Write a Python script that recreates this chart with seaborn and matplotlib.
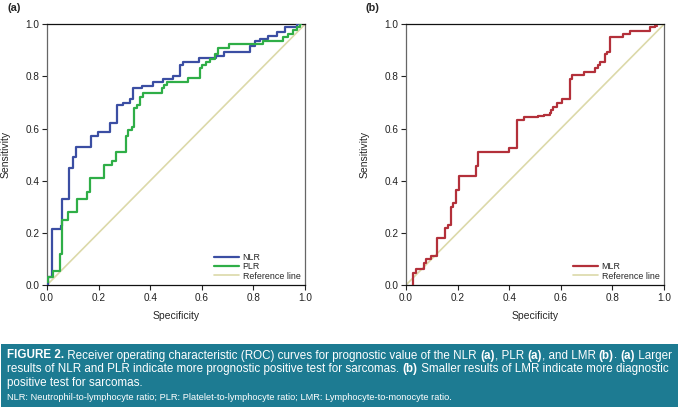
import matplotlib
matplotlib.use("Agg")
import matplotlib.pyplot as plt
import seaborn as sns
import pandas as pd
from matplotlib.patches import Rectangle

# ROC curve corner points (specificity axis, sensitivity)
nlr_x = [0.0, 0.003, 0.02, 0.055, 0.06, 0.084, 0.10, 0.114, 0.169, 0.199, 0.244, 0.272, 0.296,
         0.32, 0.335, 0.367, 0.41, 0.45, 0.49, 0.515, 0.526, 0.589, 0.655, 0.685, 0.787, 0.806,
         0.826, 0.858, 0.89, 0.922, 0.968, 0.98]
nlr_y = [0.0, 0.03, 0.215, 0.225, 0.33, 0.45, 0.49, 0.53, 0.57, 0.585, 0.62, 0.69, 0.70,
         0.715, 0.755, 0.765, 0.78, 0.79, 0.80, 0.845, 0.855, 0.87, 0.88, 0.893, 0.915, 0.935,
         0.945, 0.957, 0.97, 0.988, 1.0, 1.0]

plr_x = [0.0, 0.005, 0.022, 0.05, 0.06, 0.083, 0.117, 0.156, 0.167, 0.222, 0.252, 0.266, 0.305,
         0.315, 0.328, 0.338, 0.35, 0.36, 0.371, 0.444, 0.455, 0.464, 0.548, 0.593, 0.602, 0.616,
         0.632, 0.651, 0.664, 0.707, 0.838, 0.916, 0.935, 0.955, 0.968, 0.98, 0.985]
plr_y = [0.01, 0.03, 0.055, 0.12, 0.25, 0.28, 0.33, 0.358, 0.41, 0.46, 0.475, 0.51, 0.57,
         0.595, 0.607, 0.678, 0.69, 0.722, 0.738, 0.754, 0.767, 0.78, 0.793, 0.831, 0.844, 0.855,
         0.867, 0.885, 0.908, 0.923, 0.937, 0.952, 0.962, 0.98, 0.99, 1.0, 1.0]

mlr_x = [0.028, 0.028, 0.039, 0.07, 0.076, 0.098, 0.119, 0.151, 0.164, 0.174, 0.183, 0.195, 0.205,
         0.27, 0.28, 0.40, 0.43, 0.457, 0.512, 0.535, 0.558, 0.562, 0.57, 0.584, 0.606, 0.634,
         0.645, 0.69, 0.733, 0.743, 0.752, 0.771, 0.78, 0.791, 0.842, 0.868, 0.946, 0.965, 0.972]
mlr_y = [0.0, 0.045, 0.06, 0.086, 0.099, 0.111, 0.179, 0.22, 0.23, 0.298, 0.313, 0.364, 0.418,
         0.458, 0.511, 0.527, 0.633, 0.646, 0.649, 0.653, 0.659, 0.671, 0.684, 0.697, 0.712, 0.789,
         0.804, 0.818, 0.831, 0.845, 0.857, 0.886, 0.895, 0.95, 0.963, 0.975, 0.99, 0.995, 0.995]

ref_x = [0.0, 1.0]
ref_y = [0.0, 1.0]

NLR_COLOR = "#3b4ea3"
PLR_COLOR = "#2fae47"
MLR_COLOR = "#b3303a"
REF_COLOR = "#dcd9a9"
BOX_COLOR = "#1d7b92"

sns.set_style("white")
plt.rcParams["font.family"] = ["Liberation Sans", "DejaVu Sans"]

fig = plt.figure(figsize=(6.78, 4.07), dpi=100)
W, H = 678, 407


def axes_rect(left, right, top, bottom):
    return [left / W, 1 - bottom / H, (right - left) / W, (bottom - top) / H]


ax_a = fig.add_axes(axes_rect(47, 305, 24.3, 285))
ax_b = fig.add_axes(axes_rect(406, 664, 24.3, 285))


def draw_curve(ax, xs, ys, color, label, lw=1.6, style="steps-post", z=3):
    df = pd.DataFrame({"Specificity": xs, "Sensitivity": ys})
    sns.lineplot(data=df, x="Specificity", y="Sensitivity", ax=ax, color=color, lw=lw,
                 sort=False, estimator=None, drawstyle=style, label=label, zorder=z)


draw_curve(ax_a, nlr_x, nlr_y, NLR_COLOR, "NLR")
draw_curve(ax_a, plr_x, plr_y, PLR_COLOR, "PLR")
draw_curve(ax_a, ref_x, ref_y, REF_COLOR, "Reference line", lw=1.2, style="default", z=2)

draw_curve(ax_b, mlr_x, mlr_y, MLR_COLOR, "MLR")
draw_curve(ax_b, ref_x, ref_y, REF_COLOR, "Reference line", lw=1.2, style="default", z=2)

ticks = [0.0, 0.2, 0.4, 0.6, 0.8, 1.0]
for ax in (ax_a, ax_b):
    ax.set_xlim(0, 1)
    ax.set_ylim(0, 1)
    ax.set_xticks(ticks)
    ax.set_yticks(ticks)
    ax.set_xticklabels([f"{t:.1f}" for t in ticks])
    ax.set_yticklabels([f"{t:.1f}" for t in ticks])
    ax.tick_params(axis="both", direction="out", length=3.5, width=0.8, labelsize=7.2,
                   pad=2, left=True, bottom=True, colors="#222222")
    ax.set_xlabel("Specificity", fontsize=7.5, labelpad=6)
    ax.set_ylabel("Sensitivity", fontsize=7.5, labelpad=11)
    for side in ("top", "bottom"):
        ax.spines[side].set_color("#111111")
        ax.spines[side].set_linewidth(0.9)
    for side in ("left", "right"):
        ax.spines[side].set_color("#666666")
        ax.spines[side].set_linewidth(0.9)
    ax.legend(loc="lower right", frameon=False, fontsize=6.4, handlelength=2.8,
              handletextpad=0.4, labelspacing=0.02, borderaxespad=0.1)

fig.text(8 / W, 1 - 8 / H, "(a)", fontsize=7.8, fontweight="bold", va="center", ha="left")
fig.text(366 / W, 1 - 8 / H, "(b)", fontsize=7.8, fontweight="bold", va="center", ha="left")

# caption box
fig.patches.append(Rectangle((1 / W, 0), 677 / W, (H - 344.3) / H, transform=fig.transFigure,
                             facecolor=BOX_COLOR, edgecolor="none", zorder=0))

caption_lines = [
    [("FIGURE 2.", "bold"), (" Receiver operating characteristic (ROC) curves for prognostic value of the NLR ", "normal"),
     ("(a)", "bold"), (", PLR ", "normal"), ("(a)", "bold"), (", and LMR ", "normal"), ("(b)", "bold"),
     (". ", "normal"), ("(a)", "bold"), (" Larger", "normal")],
    [("results of NLR and PLR indicate more prognostic positive test for sarcomas. ", "normal"),
     ("(b)", "bold"), (" Smaller results of LMR indicate more diagnostic", "normal")],
    [("positive test for sarcomas.", "normal")],
]
caption_y = [355.5, 369, 383]
footnote = "NLR: Neutrophil-to-lymphocyte ratio; PLR: Platelet-to-lymphocyte ratio; LMR: Lymphocyte-to-monocyte ratio."

renderer = fig.canvas.get_renderer()
for segs, yy in zip(caption_lines, caption_y):
    x = 7.3
    for s, wgt in segs:
        t = fig.text(x / W, 1 - yy / H, s, fontsize=8.4, fontweight=wgt, color="white",
                     va="center", ha="left")
        x += t.get_window_extent(renderer).width

fig.text(7.3 / W, 1 - 397.5 / H, footnote, fontsize=6.7, color="white", va="center", ha="left")

fig.savefig("out.png", dpi=100)
